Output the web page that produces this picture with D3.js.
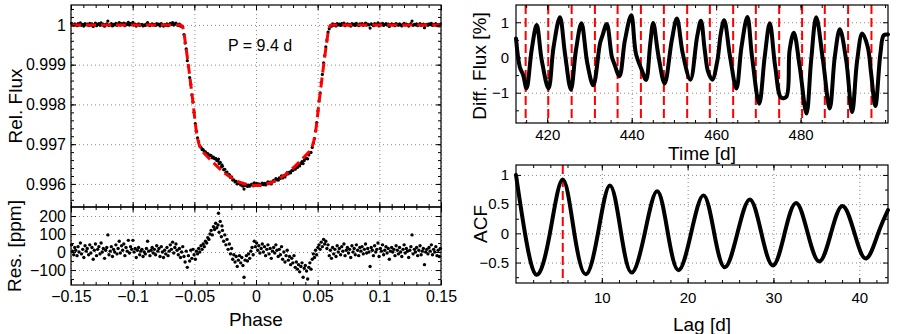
<!DOCTYPE html>
<html>
<head>
<meta charset="utf-8">
<script src="https://cdn.jsdelivr.net/npm/d3@7/dist/d3.min.js"></script>
<style>
  body { margin: 0; background: #fff; }
  svg { display: block; font-family: "Liberation Sans", Arial, sans-serif; }
  .grid line { stroke: #8c8c8c; stroke-dasharray: 1,3; }
  .grid path, .tk path { display: none; }
</style>
</head>
<body>
<svg id="fig" width="899" height="334"></svg>
<script>
// transit model (phase-folded)
const modelPhase = [-0.15, -0.061, -0.059, -0.0576, -0.0549, -0.0513, -0.0481, -0.0462, -0.0445, -0.040, -0.035, -0.030, -0.024, -0.018, -0.012, -0.006, 0,
  0.006, 0.012, 0.018, 0.024, 0.030, 0.035, 0.040, 0.0445, 0.0462, 0.0481, 0.0513, 0.0549, 0.0576, 0.059, 0.061, 0.15];
const modelFlux = [1, 1, 0.9999, 0.99962, 0.999, 0.9981, 0.99727, 0.997, 0.99688, 0.99671, 0.99655, 0.9964, 0.99624, 0.99612, 0.99603, 0.99598, 0.99596,
  0.99598, 0.99603, 0.99612, 0.99624, 0.9964, 0.99655, 0.99671, 0.99688, 0.997, 0.99727, 0.9981, 0.999, 0.99962, 0.9999, 1, 1];

// residuals, ppm
const resPhase = [-0.1495, -0.1488, -0.1478, -0.147, -0.1462, -0.1451, -0.1443, -0.1435, -0.1424, -0.1415, -0.1405, -0.1396, -0.1386, -0.1377, -0.1368, -0.1357, -0.1348, -0.1339, -0.133, -0.132,
  -0.1311, -0.1302, -0.1293, -0.1284, -0.1274, -0.1265, -0.1256, -0.1247, -0.1238, -0.1228, -0.1219, -0.121, -0.1201, -0.1192, -0.1182, -0.1173, -0.1164, -0.1155, -0.1146, -0.1136,
  -0.1127, -0.1118, -0.1109, -0.11, -0.109, -0.1081, -0.1072, -0.1063, -0.1054, -0.1044, -0.1035, -0.1026, -0.1017, -0.1008, -0.0998, -0.0989, -0.098, -0.0971, -0.0962, -0.0952,
  -0.0943, -0.0934, -0.0925, -0.0916, -0.0906, -0.0897, -0.0888, -0.0879, -0.087, -0.086, -0.0851, -0.0842, -0.0833, -0.0824, -0.0814, -0.0805, -0.0796, -0.0787, -0.0778, -0.0768,
  -0.0759, -0.075, -0.0741, -0.0732, -0.0722, -0.0713, -0.0704, -0.0695, -0.0686, -0.0676, -0.0667, -0.0658, -0.0649, -0.064, -0.063, -0.0621, -0.0612, -0.0603, -0.0594, -0.0584,
  -0.0575, -0.0566, -0.0557, -0.0548, -0.0538, -0.0529, -0.052, -0.0511, -0.0502, -0.0492, -0.0483, -0.0474, -0.0465, -0.0456, -0.0446, -0.0437, -0.0428, -0.0419, -0.041, -0.04,
  -0.0391, -0.0382, -0.0373, -0.0364, -0.0354, -0.0345, -0.0336, -0.0327, -0.0318, -0.0308, -0.0304, -0.0299, -0.029, -0.0281, -0.0276, -0.0272, -0.0262, -0.0253, -0.0244, -0.0235,
  -0.0226, -0.0216, -0.0207, -0.0198, -0.0189, -0.018, -0.017, -0.0161, -0.0152, -0.0143, -0.0134, -0.0124, -0.0115, -0.0106, -0.0097, -0.0088, -0.0078, -0.0069, -0.006, -0.0051,
  -0.0042, -0.0032, -0.0023, -0.0014, -0.0005, 0.0005, 0.0014, 0.0023, 0.0032, 0.0042, 0.0051, 0.006, 0.0069, 0.0078, 0.0088, 0.0097, 0.0106, 0.0115, 0.0124, 0.0134,
  0.0143, 0.0152, 0.0161, 0.017, 0.018, 0.0189, 0.0198, 0.0207, 0.0216, 0.0226, 0.0235, 0.0244, 0.0253, 0.0262, 0.0272, 0.0281, 0.029, 0.0299, 0.0308, 0.0318,
  0.0327, 0.0336, 0.0345, 0.0354, 0.0364, 0.0373, 0.0382, 0.0391, 0.04, 0.041, 0.0419, 0.0428, 0.0437, 0.0446, 0.0456, 0.0465, 0.0474, 0.0483, 0.0492, 0.0502,
  0.0511, 0.052, 0.0529, 0.0538, 0.0548, 0.0557, 0.0566, 0.0575, 0.0584, 0.0594, 0.0603, 0.0612, 0.0621, 0.063, 0.064, 0.0649, 0.0658, 0.0667, 0.0676, 0.0686,
  0.0695, 0.0704, 0.0713, 0.0722, 0.0732, 0.0741, 0.075, 0.0759, 0.0768, 0.0778, 0.0787, 0.0796, 0.0805, 0.0814, 0.0824, 0.0833, 0.0842, 0.0851, 0.086, 0.087,
  0.0879, 0.0888, 0.0897, 0.0906, 0.0916, 0.0925, 0.0934, 0.0943, 0.0952, 0.0962, 0.0971, 0.098, 0.0989, 0.0998, 0.1008, 0.1017, 0.1026, 0.1035, 0.1044, 0.1054,
  0.1063, 0.1072, 0.1081, 0.109, 0.11, 0.1109, 0.1118, 0.1127, 0.1136, 0.1146, 0.1155, 0.1164, 0.1173, 0.1182, 0.1192, 0.1201, 0.121, 0.1219, 0.1228, 0.1238,
  0.1247, 0.1256, 0.1265, 0.1274, 0.1284, 0.1293, 0.1302, 0.1311, 0.132, 0.133, 0.1339, 0.1348, 0.1357, 0.1366, 0.1376, 0.1385, 0.1394, 0.1403, 0.1412, 0.1422,
  0.1431, 0.144, 0.1449, 0.1458, 0.1468, 0.1477, 0.1486, 0.1495];
const resPpm = [40, 5, -15, 25, 10, -20, 30, 0, 50, -10, 15, -30, 35, 5, 20, -15, 40, -5, 25, -40,
  10, 45, -20, 15, 30, -10, 50, 0, 20, -35, 10, 25, 95, -15, 5, 30, -25, 15, 0, 40,
  -10, 20, 60, -5, 35, 10, 45, -20, 25, 5, 65, -5, 30, 15, 65, 0, 20, -30, 10, 25,
  -15, 5, 15, -25, 0, -10, 20, 60, 5, -20, 10, 25, -5, 15, -15, 35, 5, 20, -25, 30,
  0, -30, 10, -10, 25, -20, 5, 40, 15, 55, -5, 25, 45, 10, -15, 20, -30, 0, 30, -25,
  -55, 5, -85, -20, -50, 10, -35, 15, -15, -40, 5, -10, 20, 0, 35, 15, 45, 30, 60, 50,
  80, 70, 100, 120, 95, 140, 125, 160, 135, 150, 215, 110, 170, 85, 145, 120, 60, 95, 40, 70,
  15, 45, -10, 20, -40, -15, -55, -25, -80, -45, -20, -60, -30, -75, -140, -45, -20, -50, -10, -35,
  5, 25, -15, 60, 30, 50, 10, 35, -5, 20, 45, 0, 30, -20, 15, 40, -10, 20, -35, 5,
  25, -5, 40, 10, -25, 15, -15, 30, -40, 0, -55, -20, 10, -45, -25, -70, -35, -60, -20, -85,
  -55, -95, -70, -110, -80, -60, -140, -90, -75, -105, -150, -85, -60, -95, -40, -10, -30, 10, -15, 25,
  40, 15, 55, 30, 70, 45, 60, 20, 40, -20, 10, -35, 25, -10, 15, -25, 35, 0, 20, -15,
  30, 5, 45, -20, 10, 25, -5, 15, -30, 35, 0, 20, -15, 40, 10, -20, 25, 5, 30, -10,
  15, 45, -5, 20, 0, -80, 25, 10, -20, 35, 0, 15, 50, -25, 20, 5, 40, -15, 10, 30,
  -5, 20, -40, 5, 25, 0, 15, -20, 35, 10, -10, 25, 0, -25, 15, 40, -5, 20, 5, -30,
  10, 30, 95, -10, 15, 0, 25, -20, 10, 35, -15, 5, 20, -70, 0, 15, -10, 25, 5, 40,
  -15, 15, 0, 30, -20, 10, -25, 20];

// spot-modulated light curve
const lcTime = [412.6, 413.5, 414.3, 415.1, 416.3, 417.5, 418.7, 420.3, 421.5, 423.0, 424.2, 425.6, 426.8, 428.1, 429.5, 430.9, 432.5, 433.1, 434.1, 435.3,
  436.0, 437.1, 438.4, 439.9, 441.0, 442.4, 443.4, 444.4, 445.1, 446.3, 447.8, 449.5, 450.7, 452.1, 453.9, 455.5, 456.4, 457.3, 458.1, 459.1,
  460.3, 461.1, 461.9, 463.3, 464.8, 466.0, 467.4, 468.5, 470.2, 471.5, 472.7, 474.0, 475.4, 476.6, 477.4, 478.4, 479.8, 481.4, 482.5, 483.7,
  485.3, 486.9, 488.1, 489.3, 490.8, 492.2, 493.4, 494.6, 495.9, 496.7, 497.7, 498.9, 499.7, 500.7];
const lcFlux = [0.54, -0.27, -0.5, -0.88, 0.21, 0.92, -0.08, -0.88, 0.3, 1.14, 0.11, -0.91, 0.21, 0.97, -0.17, -0.79, 0.4, 0.63, 0.95, 0.02,
  -0.22, -0.53, 0.49, 1.2, 0.11, -0.36, -0.64, 0.4, 0.98, 0.07, -0.74, 0.49, 1.11, 0.11, -0.63, 0.59, 1.04, 0.21, -0.41, -0.63,
  -0.08, 0.68, 1.06, 0.02, -0.88, 0.3, 1.15, 0.02, -1.31, 0.02, 0.97, -0.27, -1.14, -1.12, 0.21, 0.7, -0.27, -1.59, -0.08, 1.14,
  -0.08, -1.45, 0.02, 0.8, -0.08, -1.55, -0.08, 0.68, 0.3, -0.45, -1.38, 0.11, 0.63, 0.65];
const transitTimes = [414.89, 420.24, 425.78, 431.29, 436.66, 442.18, 447.62, 453.14, 458.51, 464.03, 469.4, 474.92, 480.36, 485.73, 491.25, 496.78];

// autocorrelation
const acfLag = [0, 1.05, 2.4, 3.95, 5.45, 6.8, 8.15, 9.55, 10.95, 12.25, 13.5, 15.0, 16.45, 17.7, 18.95, 20.4, 21.85, 23.1, 24.35, 25.8,
  27.25, 28.6, 29.95, 31.3, 32.65, 34.0, 35.35, 36.7, 38.05, 39.45, 40.8, 42.2, 43.35];
const acfValue = [1, 0, -0.71, 0, 0.92, 0, -0.7, 0, 0.82, 0, -0.67, 0, 0.72, 0, -0.63, 0, 0.65, 0, -0.58, 0,
  0.58, 0, -0.55, 0, 0.52, 0, -0.48, 0, 0.47, 0, -0.43, 0, 0.4];
const acfPeriod = [5.45];

const phaseTicks = [-0.15, -0.1, -0.05, 0, 0.05, 0.1, 0.15];
const phaseLabels = ['\u22120.15', '\u22120.1', '\u22120.05', '0', '0.05', '0.1', '0.15'];
const fluxTicks = [0.996, 0.997, 0.998, 0.999, 1];
const fluxLabels = ['0.996', '0.997', '0.998', '0.999', '1'];
const resTicks = [-100, 0, 100, 200];
const resLabels = ['\u2212100', '0', '100', '200'];
const timeTicks = [420, 440, 460, 480];
const diffTicks = [-1, 0, 1];
const diffLabels = ['\u22121', '0', '1'];
const lagTicks = [10, 20, 30, 40];
const acfTicks = [-0.5, 0, 0.5, 1];
const acfLabels = ['\u22120.5', '0', '0.5', '1'];

const fig = {
  svg: d3.select('#fig'),

  init() {
    const phase = d3.scaleLinear().domain([-0.15, 0.15]).range([71, 441]);
    const flux = d3.scaleLinear().domain([0.99542, 1.0005]).range([207, 5]);
    const res = d3.scaleLinear().domain([-183, 250]).range([285, 207]);
    const time = d3.scaleLinear().domain([412.6, 500.7]).range([516, 888]);
    const diff = d3.scaleLinear().domain([-1.86, 1.49]).range([123, 5]);
    const lag = d3.scaleLinear().domain([0, 43.35]).range([516, 888]);
    const acf = d3.scaleLinear().domain([-0.85, 1.17]).range([283, 165]);

    this.drawPhot(phase, flux);
    this.drawRes(phase, res);
    this.drawLc(time, diff);
    this.drawAcf(lag, acf);
  },

  grid(x, y, xt, yt) {
    const [x0, x1] = x.range();
    const [y0, y1] = y.range();
    this.svg.append('g').attr('class', 'grid').attr('transform', `translate(0,${y0})`)
      .call(d3.axisBottom(x).tickValues(xt).tickSize(-(y0 - y1)).tickFormat(''));
    this.svg.append('g').attr('class', 'grid').attr('transform', `translate(${x0},0)`)
      .call(d3.axisLeft(y).tickValues(yt).tickSize(-(x1 - x0)).tickFormat(''));
  },

  // box with inward ticks on all four sides, labels only where asked
  frame(x, y, o) {
    const [x0, x1] = x.range();
    const [y0, y1] = y.range();
    const add = (axis, tx, ty, vals, size, labels, pad, fs) => {
      const g = this.svg.append('g').attr('class', 'tk').attr('transform', `translate(${tx},${ty})`)
        .call(axis.tickValues(vals).tickSize(size).tickPadding(pad || 3)
          .tickFormat((d, i) => labels ? labels[i] : ''));
      g.attr('font-family', null).attr('font-size', fs || 16);
      g.selectAll('line').attr('stroke-width', 1);
    };
    for (const [vals, size] of [[o.xt, -5], [o.xm, -3]]) {
      if (!vals) continue;
      add(d3.axisBottom(x), 0, y0, vals, size, size === -5 ? o.xl : null, o.xPad, o.fs);
      add(d3.axisTop(x), 0, y1, vals, size);
    }
    for (const [vals, size] of [[o.yt, -5], [o.ym, -3]]) {
      if (!vals) continue;
      add(d3.axisLeft(y), x0, 0, vals, size, size === -5 ? o.yl : null, o.yPad, o.fs);
      add(d3.axisRight(y), x1, 0, vals, size);
    }
    this.svg.append('rect').attr('x', x0).attr('y', y1).attr('width', x1 - x0).attr('height', y0 - y1)
      .attr('fill', 'none').attr('stroke', '#000').attr('stroke-width', 1.2);
  },

  label(text, x, y, rotate, size) {
    this.svg.append('text').attr('transform', `translate(${x},${y})` + (rotate ? ' rotate(-90)' : ''))
      .attr('text-anchor', 'middle').attr('font-size', size || 19).text(text);
  },

  drawPhot(x, y) {
    this.grid(x, y, phaseTicks, fluxTicks);
    // observed flux = model + residual
    const modelAt = d3.scaleLinear().domain(modelPhase).range(modelFlux);
    this.svg.append('g').selectAll('circle').data(resPhase).join('circle')
      .attr('cx', (d) => x(d))
      .attr('cy', (d, i) => y(modelAt(d) + resPpm[i] * 1e-6))
      .attr('r', 1.6).attr('fill', '#000');
    const line = d3.line().x((d) => x(d)).y((d, i) => y(modelFlux[i])).curve(d3.curveMonotoneX);
    this.svg.append('path').attr('d', line(modelPhase)).attr('fill', 'none')
      .attr('stroke', '#ff0000').attr('stroke-width', 3).attr('stroke-dasharray', '10,5');
    this.frame(x, y, { xt: phaseTicks, xm: d3.range(-15, 16).map((d) => d / 100),
      yt: fluxTicks, yl: fluxLabels, ym: d3.range(9956, 10005, 2).map((d) => d / 10000), yPad: 5 });
    this.label('Rel. Flux', 22, 106, true);
    this.svg.append('text').attr('x', 228).attr('y', 51).attr('font-size', 16).text('P = 9.4 d');
  },

  drawRes(x, y) {
    this.grid(x, y, phaseTicks, resTicks);
    this.svg.append('g').selectAll('circle').data(resPhase).join('circle')
      .attr('cx', (d) => x(d)).attr('cy', (d, i) => y(resPpm[i]))
      .attr('r', 1.7).attr('fill', '#000');
    this.frame(x, y, { xt: phaseTicks, xl: phaseLabels, xm: d3.range(-15, 16).map((d) => d / 100), xPad: 6,
      yt: resTicks, yl: resLabels, ym: [-150, -50, 50, 150], yPad: 5 });
    this.label('Res. [ppm]', 21, 246, true);
    this.label('Phase', 256, 326);
  },

  drawLc(x, y) {
    this.grid(x, y, timeTicks, diffTicks);
    const [y0, y1] = y.range();
    this.svg.append('g').selectAll('line').data(transitTimes).join('line')
      .attr('x1', (d) => x(d)).attr('x2', (d) => x(d)).attr('y1', y1).attr('y2', y0)
      .attr('stroke', '#ff0000').attr('stroke-width', 2).attr('stroke-dasharray', '9,4');
    const line = d3.line().x((d) => x(d)).y((d, i) => y(lcFlux[i])).curve(d3.curveCatmullRom.alpha(0.5));
    this.svg.append('path').attr('d', line(lcTime)).attr('fill', 'none')
      .attr('stroke', '#000').attr('stroke-width', 4).attr('stroke-linejoin', 'round').attr('stroke-linecap', 'round');
    this.frame(x, y, { xt: timeTicks, xl: timeTicks.map(String), xm: d3.range(415, 501, 5), xPad: 6,
      yt: diffTicks, yl: diffLabels, ym: [-1.5, -0.5, 0.5], yPad: 7, fs: 15 });
    this.label('Diff. Flux [%]', 486, 66, true);
    this.label('Time [d]', 702, 160);
  },

  drawAcf(x, y) {
    this.grid(x, y, lagTicks, acfTicks);
    const [y0, y1] = y.range();
    this.svg.append('g').selectAll('line').data(acfPeriod).join('line')
      .attr('x1', (d) => x(d)).attr('x2', (d) => x(d)).attr('y1', y1).attr('y2', y0)
      .attr('stroke', '#ff0000').attr('stroke-width', 2).attr('stroke-dasharray', '9,4');
    const line = d3.line().x((d) => x(d)).y((d, i) => y(acfValue[i])).curve(d3.curveNatural);
    this.svg.append('path').attr('d', line(acfLag)).attr('fill', 'none')
      .attr('stroke', '#000').attr('stroke-width', 4).attr('stroke-linecap', 'round');
    this.frame(x, y, { xt: lagTicks, xl: lagTicks.map(String), xm: d3.range(2, 44, 2), xPad: 9,
      yt: acfTicks, yl: acfLabels, ym: [-0.75, -0.25, 0.25, 0.75], yPad: 7, fs: 15 });
    this.label('ACF', 487, 224, true);
    this.label('Lag [d]', 702, 331);
  }
};

fig.init();
</script>
</body>
</html>
